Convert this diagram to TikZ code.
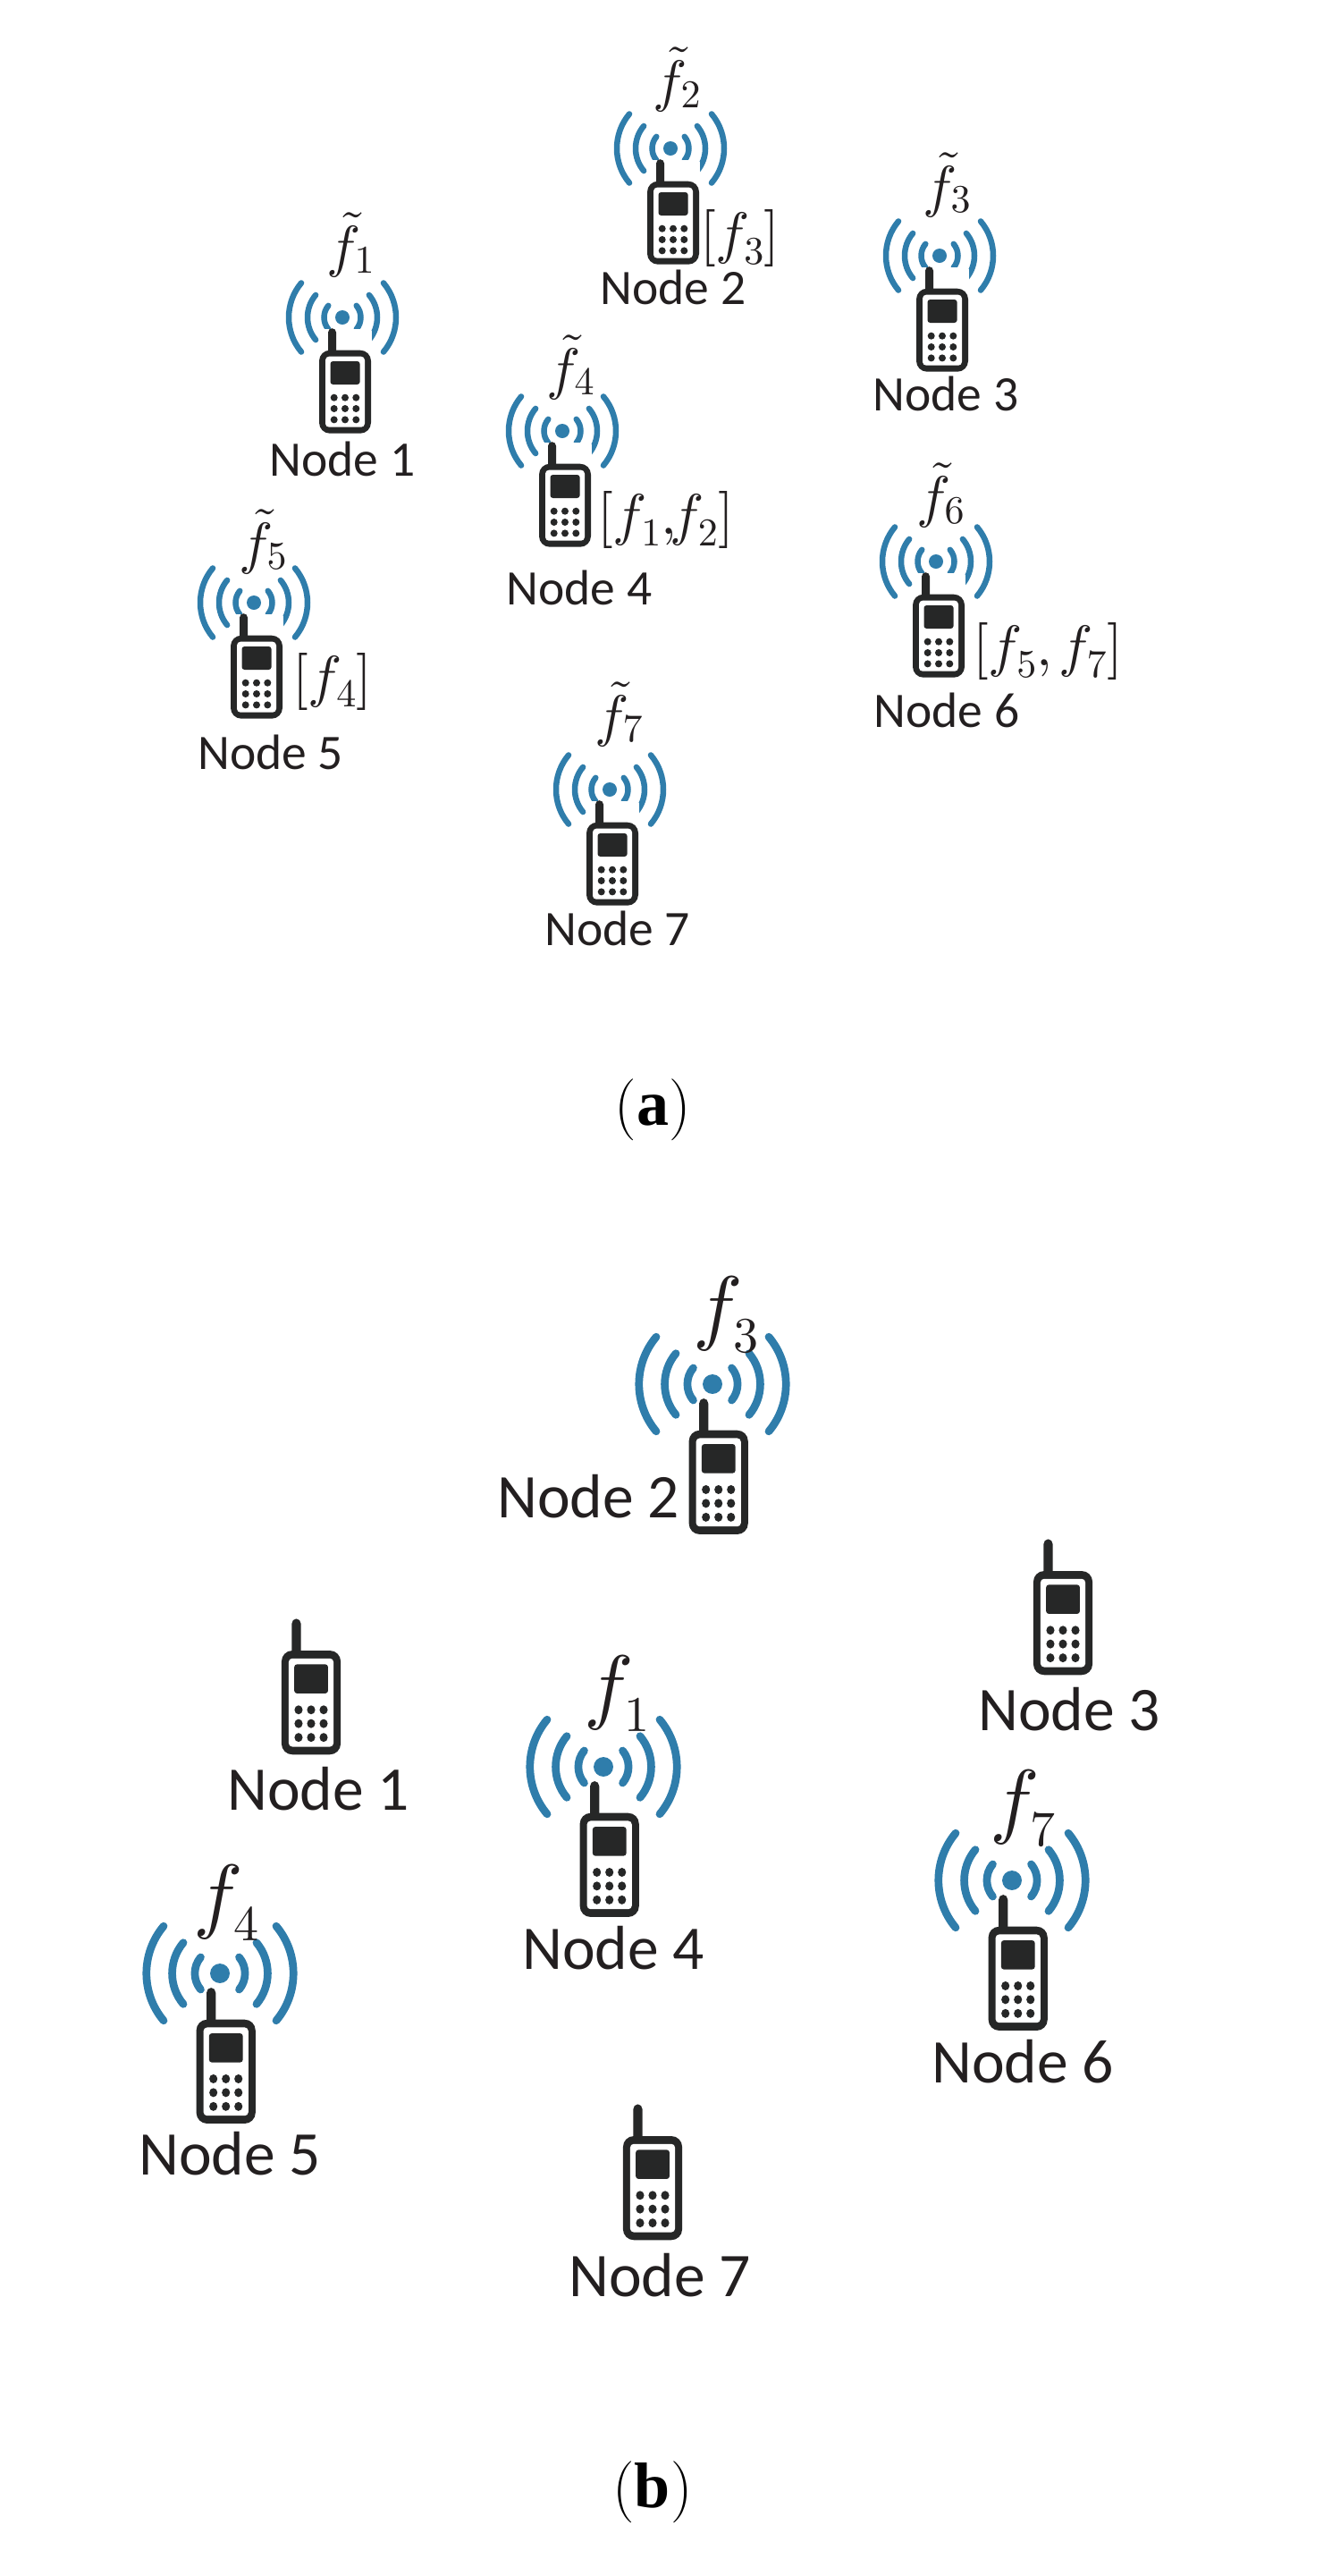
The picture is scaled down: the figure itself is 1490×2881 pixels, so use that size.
\documentclass[tikz,border=0pt]{standalone}
\usepackage[no-math]{fontspec}
\newfontfamily\nodefont{Carlito}
\newfontfamily\capfont{Liberation Serif}
\DeclareFontShape{OT1}{cmr}{m}{n}{<->cmr10}{}
\DeclareFontShape{OML}{cmm}{m}{it}{<->cmmi10}{}
\DeclareFontShape{OMS}{cmsy}{m}{n}{<->cmsy10}{}
\DeclareFontShape{OMX}{cmex}{m}{n}{<->cmex10}{}
\DeclareMathSizes{64}{64}{44}{32}
\DeclareMathSizes{93}{93}{56}{42}
\definecolor{waveblue}{HTML}{2F7DAB}
\definecolor{phonedark}{HTML}{262727}
\definecolor{inkdark}{HTML}{231F20}
\newcommand{\fsa}[1]{f_{\lower3pt\hbox{$\scriptstyle#1$}}}
\newcommand{\fta}[1]{\tilde{f}_{\raise2pt\hbox{$\scriptstyle#1$}}}
\newcommand{\fsb}[1]{f_{\lower6.5pt\hbox{$\scriptstyle#1$}}}
\newcommand{\capbold}[1]{{\capfont\bfseries\fontsize{72}{80}\selectfont#1}}
\tikzset{
  x=1pt,y=1pt,
  pics/waves/.style={code={
    \fill[waveblue] (0,0) circle (8);
    \foreach \r in {20.5,39,60}{
      \draw[waveblue,line width=#1,line cap=round] (140:\r) arc[start angle=140,end angle=220,radius=\r];
      \draw[waveblue,line width=#1,line cap=round] (40:\r) arc[start angle=40,end angle=-40,radius=\r];
    }
  }},
  pics/wavecut/.style={code={
    \fill[white] (-26,-12.5) rectangle (26,-21);
    \fill[white] (24,-15) rectangle (32.5,-34);
  }},
  pics/phone/.style={code={
    \fill[phonedark] (-14.5,-#1) ++(-4.5,0) -- ++(0,#1+3) -- ++(9,0) -- ++(0,-#1-3) arc[start angle=0,end angle=-180,radius=4.5] -- cycle;
    \fill[phonedark,rounded corners=12] (-29,0) rectangle (29,93);
    \fill[white,rounded corners=4] (-22,7) rectangle (22,86);
    \fill[phonedark,rounded corners=3] (-16.5,12.3) rectangle (16.6,38.3);
    \foreach \px in {-12.3,0,12.3}\foreach \py in {53,65.3,77.7}{
      \fill[phonedark] (\px,\py) circle (4);
    }
  }},
  labA/.style={inkdark,inner sep=0pt,anchor=base,font=\nodefont\fontsize{55.5}{60}\selectfont},
  labB/.style={inkdark,inner sep=0pt,anchor=base,font=\nodefont\fontsize{69.5}{80}\selectfont},
  mathA/.style={inkdark,inner sep=0pt,anchor=base west,font=\fontsize{64}{70}\selectfont},
  mathB/.style={inkdark,inner sep=0pt,anchor=base west,font=\fontsize{93}{100}\selectfont},
  capt/.style={black,inner sep=0pt,anchor=base,font=\fontsize{69}{80}\selectfont},
}
\newcommand{\smallphone}[2]{%
  \pic at (#1,-#2) {waves=6.5};
  \pic at (#1,-#2) {wavecut};
  \pic[yscale=-1] at (#1+3,-#2-36.7) {phone=20};
}
\newcommand{\bigwaves}[2]{%
  \pic[scale=1.37] at (#1,-#2) {waves=8.7};
  \pic[xscale=1.14,yscale=-1.25] at (#1+6.7,-#2-51.7) {phone=24};
}
\newcommand{\barephone}[2]{%
  \pic[xscale=1.14,yscale=-1.25] at (#1,-#2) {phone=24};
}
\begin{document}
\begin{tikzpicture}
\useasboundingbox (0,-2881) rectangle (1490,0);
% panel (a)
\smallphone{383}{355}
\smallphone{750}{166}
\smallphone{1051}{286}
\smallphone{629}{482}
\smallphone{284}{674}
\smallphone{1047}{628}
\smallphone{682}{883}
\node[labA] (a1) at (383,-532) {Node 1};
\node[labA] (a2) at (753,-340) {Node 2};
\node[labA] (a3) at (1058,-459) {Node 3};
\node[labA] (a4) at (648,-676) {Node 4};
\node[labA] (a5) at (302.5,-860) {Node 5};
\node[labA] (a6) at (1059,-813) {Node 6};
\node[labA] (a7) at (690.5,-1057) {Node 7};
\node[mathA] (fa1) at (365,-297.6) {$\fta{1}$};
\node[mathA] (fa2) at (730,-112.6) {$\fta{2}$};
\node[mathA] (fa3) at (1032,-230) {$\fta{3}$};
\node[mathA] (fa4) at (611,-434) {$\fta{4}$};
\node[mathA] (fa5) at (267,-629) {$\fta{5}$};
\node[mathA] (fa6) at (1025,-577.6) {$\fta{6}$};
\node[mathA] (fa7) at (665,-822) {$\fta{7}$};
\node[mathA] (ga2) at (783,-282.6) {$[\fsa{3}]$};
\node[mathA] (ga4) at (668,-597.6) {$[\fsa{1}{,}\kern-8pt\fsa{2}]$};
\node[mathA] (ga5) at (327,-778) {$[\fsa{4}]$};
\node[mathA] (ga6) at (1088,-744.6) {$[\fsa{5},\kern-4pt\fsa{7}]$};
\node[capt] (capa) at (730,-1258) {(\capbold{a})};
% panel (b)
\bigwaves{797}{1548}
\bigwaves{675}{1976}
\bigwaves{246}{2207}
\bigwaves{1132}{2103}
\barephone{348}{1846}
\barephone{1189}{1757}
\barephone{730}{2389}
\node[labB] (b1) at (356,-2024) {Node 1};
\node[labB] (b2) at (658,-1697) {Node 2};
\node[labB] (b3) at (1196,-1935) {Node 3};
\node[labB] (b4) at (686,-2202) {Node 4};
\node[labB] (b5) at (257,-2432) {Node 5};
\node[labB] (b6) at (1144,-2329) {Node 6};
\node[labB] (b7) at (738,-2568) {Node 7};
\node[mathB] (fb3) at (775,-1492) {$\fsb{3}$};
\node[mathB] (fb1) at (653,-1916) {$\fsb{1}$};
\node[mathB] (fb4) at (216,-2150) {$\fsb{4}$};
\node[mathB] (fb7) at (1107,-2044) {$\fsb{7}$};
\node[capt] (capb) at (730,-2804) {(\capbold{b})};
\end{tikzpicture}
\end{document}
